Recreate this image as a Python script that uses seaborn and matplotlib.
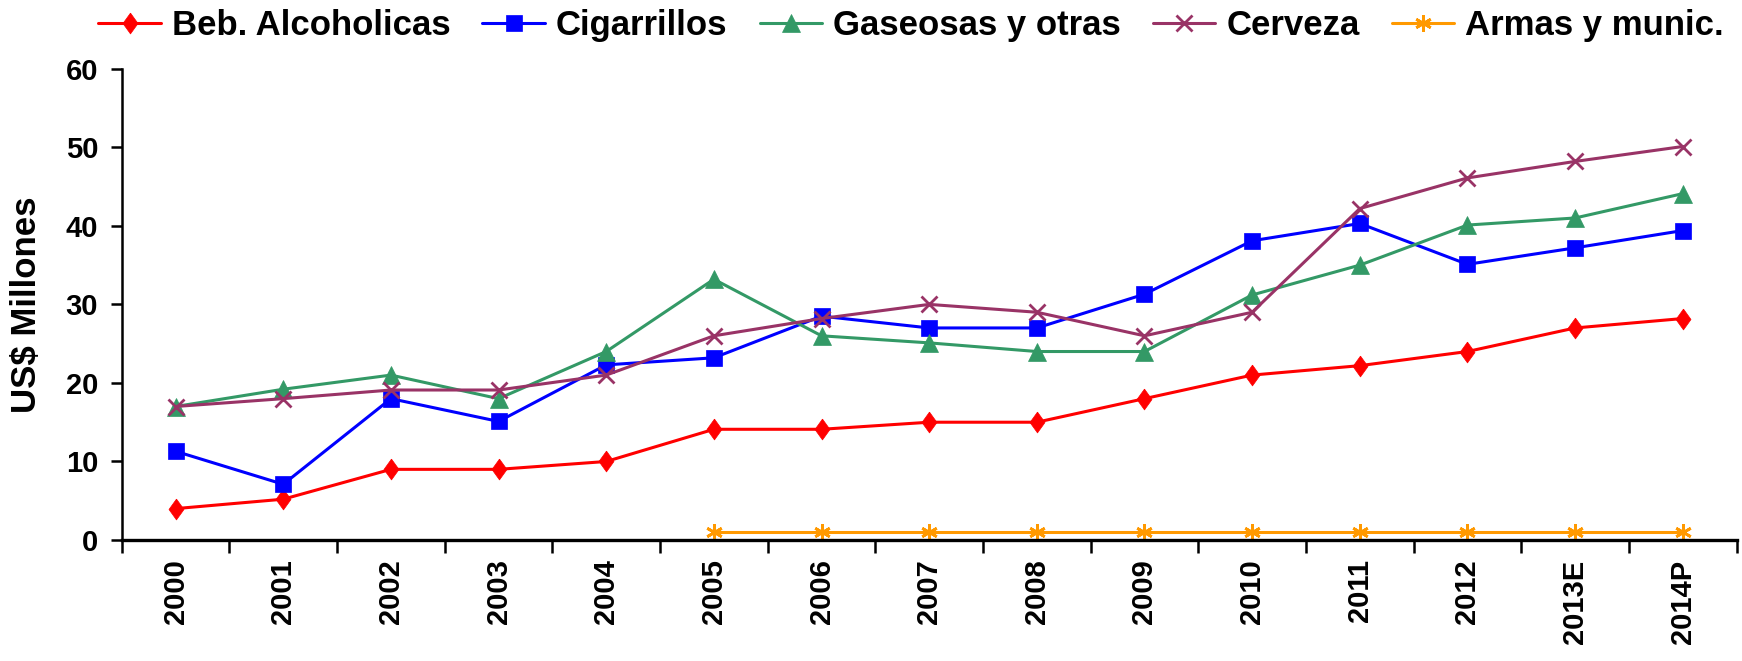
import numpy as np
import pandas as pd
import matplotlib.pyplot as plt
import seaborn as sns

# categories and series (US$ millones)
years = ["2000", "2001", "2002", "2003", "2004", "2005", "2006", "2007",
         "2008", "2009", "2010", "2011", "2012", "2013E", "2014P"]
beb_alcoholicas = [4, 5.2, 9, 9, 10, 14.1, 14.1, 15, 15, 18, 21, 22.2, 24, 27, 28.2]
cigarrillos = [11.3, 7.1, 18, 15.1, 22.3, 23.2, 28.5, 27, 27, 31.3, 38.1, 40.3, 35.1, 37.2, 39.4]
gaseosas = [17, 19.2, 21, 18, 24, 33.2, 26, 25.1, 24, 24, 31.2, 35, 40.1, 41, 44.1]
cerveza = [17, 18, 19.1, 19.1, 21, 26, 28.2, 30, 29, 26, 29, 42.2, 46.1, 48.2, 50.1]
armas = [np.nan, np.nan, np.nan, np.nan, np.nan, 1, 1, 1, 1, 1, 1, 1, 1, 1, 1]

series_names = ["Beb. Alcoholicas", "Cigarrillos", "Gaseosas y otras", "Cerveza", "Armas y munic."]
series_vals = [beb_alcoholicas, cigarrillos, gaseosas, cerveza, armas]
colors = ["#FF0000", "#0000FF", "#339966", "#993366", "#FF9900"]

# excel-like marker shapes
diamond = [(0, 1), (0.72, 0), (0, -1), (-0.72, 0), (0, 1)]
markers = [diamond, "s", "^", "x", (6, 2, 0)]
msizes = [15, 11.5, 13.5, 11, 12]
medge = [0.5, 0.5, 0.5, 2.0, 2.0]

sns.set_style("ticks")
plt.rcParams['font.family'] = ['Liberation Sans', 'DejaVu Sans']
plt.rcParams['font.weight'] = 'bold'
for k in ['text.color', 'axes.labelcolor', 'xtick.color', 'ytick.color', 'axes.edgecolor']:
    plt.rcParams[k] = 'black'

fig = plt.figure(figsize=(17.42, 6.61), dpi=100)
ax = fig.add_axes([0.0699, 0.183, 0.927, 0.713])

x_pos = np.arange(len(years))
for name, vals, c, m, ms, mew in zip(series_names, series_vals, colors, markers, msizes, medge):
    df = pd.DataFrame({"x": x_pos, "y": vals})
    sns.lineplot(data=df, x="x", y="y", ax=ax, color=c, marker=m, markersize=ms,
                 markeredgecolor=c, markeredgewidth=mew, linewidth=2.2, label=name)

ax.set_xlim(-0.5, len(years) - 0.5)
ax.set_ylim(0, 60)
ax.set_yticks(range(0, 61, 10))
ax.set_yticklabels([str(v) for v in range(0, 61, 10)], fontsize=21, fontweight='bold')

# Excel style: ticks between categories, labels at the category centres
ax.set_xticks(np.arange(-0.5, len(years), 1.0))
ax.set_xticklabels([])
ax.set_xticks(x_pos, minor=True)
ax.set_xticklabels(years, minor=True, rotation=90, fontsize=21, fontweight='bold')
ax.tick_params(axis='x', which='major', length=9, width=1.8, direction='out')
ax.tick_params(axis='x', which='minor', length=0, pad=14)
ax.tick_params(axis='y', length=8, width=1.8, direction='out', pad=9)

ax.set_xlabel("")
ax.set_ylabel("US$ Millones", fontsize=25, fontweight='bold', labelpad=16)
for s in ["top", "right"]:
    ax.spines[s].set_visible(False)
ax.spines["left"].set_linewidth(1.8)
ax.spines["bottom"].set_linewidth(2.4)

handles, labels = ax.get_legend_handles_labels()
ax.get_legend().remove()
fig.legend(handles, labels, loc='center', bbox_to_anchor=(0.523, 0.961), ncol=5,
           frameon=False, handlelength=1.8, columnspacing=0.92,
           handletextpad=0.32, prop={'weight': 'bold', 'size': 25})

fig.savefig("out.png", dpi=100)
